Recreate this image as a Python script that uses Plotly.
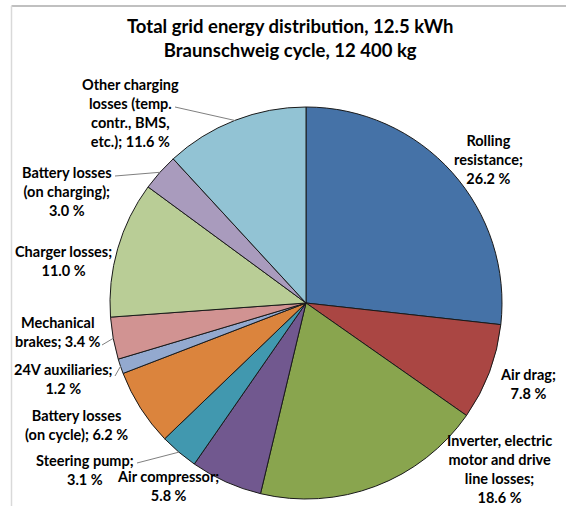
import math
import plotly.graph_objects as go

# ---- data ----
categories = [
    "Rolling resistance", "Air drag", "Inverter, electric motor and drive line losses",
    "Air compressor", "Steering pump", "Battery losses (on cycle)", "24V auxiliaries",
    "Mechanical brakes", "Charger losses", "Battery losses (on charging)",
    "Other charging losses (temp. contr., BMS, etc.)",
]
values = [26.2, 7.8, 18.6, 5.8, 3.1, 6.2, 1.2, 3.4, 11.0, 3.0, 11.6]
label_texts = [
    "Rolling<br>resistance;<br>26.2 %",
    "Air drag;<br>7.8 %",
    "Inverter, electric<br>motor and drive<br>line losses;<br>18.6 %",
    "Air compressor;<br>5.8 %",
    "Steering pump;<br>3.1 %",
    "Battery losses<br>(on cycle); 6.2 %",
    "24V auxiliaries;<br>1.2 %",
    "Mechanical<br>brakes; 3.4 %",
    "Charger losses;<br>11.0 %",
    "Battery losses<br>(on charging);<br>3.0 %",
    "Other charging<br>losses (temp.<br>contr., BMS,<br>etc.); 11.6 %",
]
colors = ["#4572A7", "#AA4643", "#89A54E", "#71588F", "#4198AF", "#DB843D",
          "#93A9CF", "#D19392", "#B9CD96", "#A99BBD", "#92C3D4"]

# ---- layout geometry (pixels) ----
W, H = 566, 506
CX, CY, R = 306, 303, 196
FONT = "Lato"

def px(x):
    return x / W

def py(y):
    return 1 - y / H

# label centers (pixels)
label_pos = [(488, 160), (528, 384), (500, 469), (168, 486), (85, 470),
             (76, 425), (63, 379), (58, 332), (63, 261), (67, 191), (130, 113)]
# leader line start points at label side (pixels), by category index
leader_start = {10: (175, 107), 9: (115, 176), 7: (102, 345), 6: (115, 376), 4: (137, 463)}

fig = go.Figure(go.Pie(
    labels=categories, values=values, sort=False, direction="clockwise", rotation=0,
    marker=dict(colors=colors, line=dict(color="#1a1a1a", width=1)),
    textinfo="none", hoverinfo="label+percent", showlegend=False,
    domain=dict(x=[px(CX - R), px(CX + R)], y=[py(CY + R), py(CY - R)]),
))

annotations = []
for (lx, ly), t in zip(label_pos, label_texts):
    annotations.append(dict(
        x=px(lx), y=py(ly), xref="paper", yref="paper", text=t, showarrow=False,
        xanchor="center", yanchor="middle", align="center",
        font=dict(family=FONT, size=14.5, color="#000000", weight="bold"),
    ))
annotations.append(dict(
    x=px(290), y=py(38), xref="paper", yref="paper",
    text="Total grid energy distribution, 12.5 kWh<br>Braunschweig cycle, 12 400 kg",
    showarrow=False, xanchor="center", yanchor="middle", align="center",
    font=dict(family=FONT, size=18.5, color="#000000", weight="bold"),
))

total = sum(values)
cum = 0
mids = []
for v in values:
    mids.append((cum + v / 2) / total * 2 * math.pi)
    cum += v

shapes = []
for i, (sx, sy) in leader_start.items():
    ex = CX + R * math.sin(mids[i])
    ey = CY - R * math.cos(mids[i])
    shapes.append(dict(type="line", xref="paper", yref="paper",
                       x0=px(sx), y0=py(sy), x1=px(ex), y1=py(ey),
                       line=dict(color="#808080", width=1)))
# chart frame
shapes.append(dict(type="line", xref="paper", yref="paper", x0=px(11.5), y0=py(6), x1=1.0, y1=py(6),
                   line=dict(color="#ABABAB", width=1.5)))
shapes.append(dict(type="line", xref="paper", yref="paper", x0=px(11.5), y0=py(6), x1=px(11.5), y1=0,
                   line=dict(color="#D9D9D9", width=1.5)))

fig.update_layout(
    width=W, height=H, margin=dict(l=0, r=0, t=0, b=0),
    paper_bgcolor="white", plot_bgcolor="white",
    annotations=annotations, shapes=shapes,
)
fig.write_html(
    "out.html",
    config={"displayModeBar": False},
    post_script="document.body.style.margin='0px';document.body.style.overflow='hidden';",
)
